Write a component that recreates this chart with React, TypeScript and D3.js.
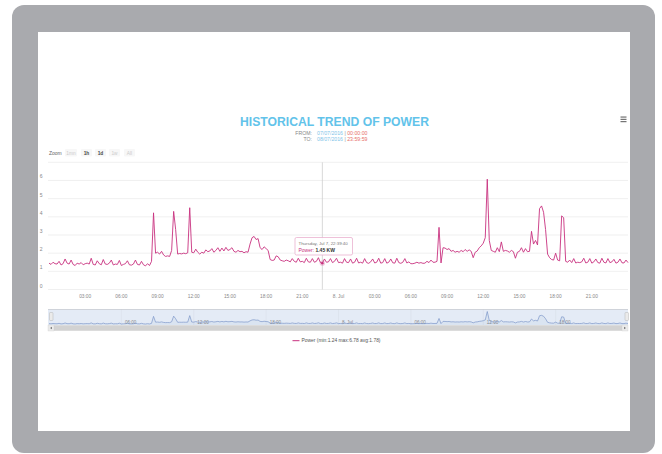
import React from "react";
import * as d3 from "d3";

// Power readings (kW), one every 10 minutes from 7 Jul 2016 00:00 to 8 Jul 2016 24:00
const power: number[] = [
  1.45,1.38,1.50,1.42,1.40,1.55,
  1.35,1.42,1.68,1.45,1.40,1.62,
  1.38,1.32,1.45,1.40,1.48,1.36,
  1.42,1.45,1.40,1.72,1.38,1.35,
  1.58,1.42,1.36,1.65,1.40,1.38,
  1.45,1.62,1.35,1.40,1.38,1.60,
  1.32,1.38,1.42,1.58,1.36,1.34,
  1.40,1.62,1.38,1.35,1.55,1.36,
  1.30,1.42,1.32,1.55,4.22,2.00,
  2.05,1.95,2.10,1.90,1.82,1.85,
  1.82,2.15,4.30,3.30,1.95,1.98,
  1.96,2.00,1.97,2.02,4.50,2.05,
  2.02,2.22,2.05,1.95,2.05,2.00,
  2.18,2.08,2.12,2.25,2.05,2.15,
  2.30,2.10,2.28,2.12,2.32,2.15,
  2.20,2.30,2.10,2.05,2.15,2.08,
  2.10,2.02,2.08,2.05,2.50,2.85,
  2.92,2.75,2.80,2.30,2.20,2.35,
  2.25,2.15,1.65,1.60,1.62,1.85,
  1.80,1.62,1.58,1.55,1.62,1.58,
  1.52,1.70,1.55,1.50,1.72,1.52,
  1.55,1.48,1.72,1.52,1.50,1.70,
  1.50,1.55,1.75,1.48,1.45,1.68,
  1.50,1.52,1.70,1.48,1.55,1.72,
  1.48,1.50,1.45,1.70,1.50,1.48,
  1.68,1.45,1.50,1.72,1.46,1.50,
  1.45,1.70,1.48,1.44,1.52,1.68,
  1.46,1.50,1.72,1.45,1.48,1.70,
  1.45,1.50,1.68,1.47,1.45,1.72,
  1.48,1.44,1.50,1.70,1.46,1.52,
  1.42,1.42,1.45,1.50,1.45,1.48,
  1.44,1.45,1.55,1.48,1.62,1.50,
  1.50,1.55,3.42,1.46,2.30,2.28,
  2.20,2.25,2.10,2.15,2.05,2.10,
  2.05,2.15,2.08,2.20,2.10,2.18,
  2.10,1.75,2.05,2.12,2.30,2.40,
  2.55,2.85,6.07,2.70,2.15,2.10,
  2.05,2.30,2.08,2.62,2.10,2.15,
  2.12,2.05,2.15,2.08,1.72,2.05,
  2.10,2.30,2.05,2.25,2.08,2.10,
  3.20,2.50,2.70,2.45,4.45,4.60,
  4.25,3.30,1.95,1.75,1.65,1.62,
  2.00,1.62,1.58,4.05,3.95,1.55,
  1.50,1.62,1.48,1.70,1.46,1.50,
  1.48,1.52,1.72,1.46,1.50,1.70,
  1.45,1.52,1.68,1.48,1.45,1.72,
  1.50,1.46,1.70,1.48,1.52,1.66,
  1.45,1.50,1.68,1.47,1.46,1.62,
  1.48,
];
const STEP_HOURS = 1 / 6;

const xTickHours = [3, 6, 9, 12, 15, 18, 21, 24, 27, 30, 33, 36, 39, 42, 45];
const xTickLabels = ["03:00","06:00","09:00","12:00","15:00","18:00","21:00","8. Jul","03:00","06:00","09:00","12:00","15:00","18:00","21:00"];
const yTicks = [0, 1, 2, 3, 4, 5, 6, 7];
const yTickLabels = ["0", "1", "2", "3", "4", "5", "6", ""];
const navTickHours = [6, 12, 18, 24, 30, 36, 42];
const navTickLabels = ["06:00","12:00","18:00","8. Jul","06:00","12:00","18:00"];
const zoomButtons = ["1mn", "1h", "1d", "1w", "All"];
const zoomEnabled = [false, true, true, false, false];

const title = "HISTORICAL TREND OF POWER";
const fromDate = "07/07/2016";
const fromTime = "00:00:00";
const toDate = "08/07/2016";
const toTime = "23:59:59";
const legendText = "Power (min:1.24 max:6.78 avg:1.78)";
const tooltipDate = "Thursday, Jul 7, 22:39:40";
const tooltipValue = "1.45 KW";
const hoverHour = 22 + 39 / 60 + 40 / 3600;
const hoverValue = 1.45;

const FONT = "'Liberation Sans', Arial, sans-serif";
const LINE = "#c8317f";

export default function App() {
  const data = power.map((v, i) => ({ t: i * STEP_HOURS, v }));
  const x = d3.scaleLinear().domain([0, 48]).range([49, 628]);
  const y = d3.scaleLinear().domain([0, 7]).range([289.5, 162.3]);
  const line = d3.line<{ t: number; v: number }>().x(d => x(d.t)).y(d => y(d.v));

  const navY = d3.scaleLinear().domain([d3.min(power)!, d3.max(power)!]).range([324, 311.5]);
  const navLine = d3.line<{ t: number; v: number }>().x(d => x(d.t)).y(d => navY(d.v));
  const navArea = d3.area<{ t: number; v: number }>().x(d => x(d.t)).y0(325).y1(d => navY(d.v));

  const hx = x(hoverHour);
  const hy = y(hoverValue);

  const btnX = [65, 81, 95, 109, 124];

  return (
    <svg width={662} height={454} style={{ position: "absolute", left: 0, top: 0 }} fontFamily={FONT}>
      <rect x={0} y={0} width={662} height={454} fill="#fff" />
      {/* tablet frame */}
      <rect x={12} y={5} width={643} height={448} rx={12} fill="#a9aaae" />
      <rect x={38} y={32} width={592} height={399} fill="#ffffff" />

      {/* title */}
      <text x={334.5} y={125.5} textAnchor="middle" fontSize={12} fontWeight="bold" fill="#62c3ea" textLength={189} lengthAdjust="spacingAndGlyphs">{title}</text>
      <text x={312} y={135} textAnchor="end" fontSize={5.2} fill="#888">FROM:</text>
      <text x={317} y={135} fontSize={5.2}>
        <tspan fill="#7fc4e8">{fromDate}</tspan>
        <tspan fill="#999"> | </tspan>
        <tspan fill="#e8706a">{fromTime}</tspan>
      </text>
      <text x={312} y={141.2} textAnchor="end" fontSize={5.2} fill="#888">TO:</text>
      <text x={317} y={141.2} fontSize={5.2}>
        <tspan fill="#7fc4e8">{toDate}</tspan>
        <tspan fill="#999"> | </tspan>
        <tspan fill="#e8706a">{toTime}</tspan>
      </text>

      {/* menu icon */}
      {[0, 1, 2].map(i => (
        <rect key={i} x={620.5} y={116.5 + i * 2.3} width={6} height={1.1} fill="#666" />
      ))}

      {/* range selector */}
      <text x={49} y={154.5} fontSize={5} fill="#666">Zoom</text>
      {zoomButtons.map((b, i) => (
        <g key={b}>
          <rect x={btnX[i]} y={149} width={i === 0 ? 12 : 11} height={7.5} rx={1} fill="#f7f7f7" />
          <text x={btnX[i] + (i === 0 ? 6 : 5.5)} y={154.5} textAnchor="middle" fontSize={4.8}
            fontWeight={zoomEnabled[i] ? "bold" : "normal"} fill={zoomEnabled[i] ? "#444" : "#ccc"}>{b}</text>
        </g>
      ))}

      {/* gridlines + y labels */}
      {yTicks.map((t, i) => (
        <g key={t}>
          <line x1={48} x2={628} y1={y(t)} y2={y(t)} stroke="#ececec" strokeWidth={0.8} />
          <text x={42.5} y={y(t) - 2} textAnchor="end" fontSize={5} fill="#888">{yTickLabels[i]}</text>
        </g>
      ))}

      {/* x labels */}
      {xTickHours.map((h, i) => (
        <text key={i} x={x(h)} y={297.5} textAnchor="middle" fontSize={4.8} fill="#888">{xTickLabels[i]}</text>
      ))}

      {/* crosshair */}
      <line x1={hx} x2={hx} y1={162.3} y2={289.5} stroke="#cfcfcf" strokeWidth={0.8} />

      {/* series */}
      <path d={line(data)!} fill="none" stroke={LINE} strokeWidth={0.9} strokeLinejoin="round" />
      <circle cx={hx} cy={hy} r={2.6} fill={LINE} opacity={0.25} />
      <circle cx={hx} cy={hy} r={1.2} fill={LINE} />

      {/* tooltip */}
      <rect x={295} y={237.5} width={57.5} height={17.5} rx={1.5} fill="rgba(255,255,255,0.9)" stroke="#e7a6c8" strokeWidth={0.7} />
      <text x={298.5} y={245} fontSize={4.4} fill="#777">{tooltipDate}</text>
      <text x={298.5} y={252.3} fontSize={5}>
        <tspan fill={LINE}>Power: </tspan>
        <tspan fill="#333" fontWeight="bold">{tooltipValue}</tspan>
      </text>

      {/* navigator */}
      <rect x={48} y={309.5} width={580} height={15.5} fill="#e4ebf6" />
      {navTickHours.map((h, i) => (
        <g key={i}>
          <line x1={x(h)} x2={x(h)} y1={309.5} y2={325} stroke="#d6dce6" strokeWidth={0.5} />
          <text x={x(h) + 3.5} y={324} fontSize={4.6} fill="#8a8a8a">{navTickLabels[i]}</text>
        </g>
      ))}
      <path d={navArea(data)!} fill="rgba(69,114,167,0.06)" />
      <path d={navLine(data)!} fill="none" stroke="#7d97c8" strokeWidth={0.7} />
      <line x1={48} x2={628} y1={309.5} y2={309.5} stroke="#b8bcc4" strokeWidth={0.6} />
      {/* handles */}
      <rect x={49.5} y={312.5} width={3.5} height={8} rx={0.8} fill="#ebebeb" stroke="#aaa" strokeWidth={0.4} />
      <rect x={625} y={312.5} width={3.5} height={8} rx={0.8} fill="#ebebeb" stroke="#aaa" strokeWidth={0.4} />
      {/* scrollbar */}
      <rect x={48} y={325} width={580} height={6} fill="#e6e6e6" />
      <rect x={54} y={325.5} width={568} height={5} fill="#d2d2d2" />
      <rect x={48} y={325} width={6} height={6} fill="#ebebeb" stroke="#c8c8c8" strokeWidth={0.3} />
      <rect x={622} y={325} width={6} height={6} fill="#ebebeb" stroke="#c8c8c8" strokeWidth={0.3} />
      <path d="M52,326.8 L50,328 L52,329.2 Z" fill="#777" />
      <path d="M624,326.8 L626,328 L624,329.2 Z" fill="#777" />

      {/* legend */}
      <line x1={292.5} x2={299.5} y1={340.7} y2={340.7} stroke={LINE} strokeWidth={1} />
      <text x={301.5} y={342.4} fontSize={4.6} fill="#555" textLength={79} lengthAdjust="spacingAndGlyphs">{legendText}</text>
    </svg>
  );
}
